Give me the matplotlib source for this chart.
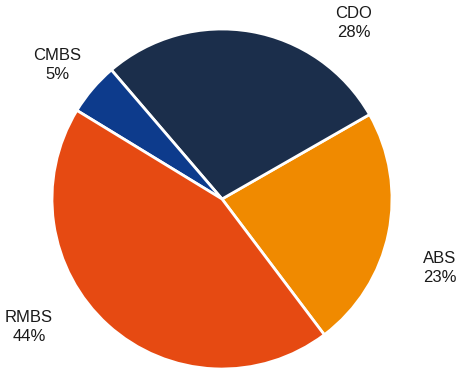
import matplotlib
matplotlib.use("Agg")
import matplotlib.pyplot as plt

categories = ["ABS", "CDO", "CMBS", "RMBS"]
values = [23, 28, 5, 44]
colors = ["#F08A00", "#1B2E4B", "#0D3B8C", "#E64A12"]

plt.rcParams['font.family'] = ['Liberation Sans', 'DejaVu Sans']

fig = plt.figure(figsize=(4.6, 3.72), dpi=100)
cx, cy, r = 222, 199, 170
W, H = 460, 372
ax = fig.add_axes([(cx - r) / W, (H - cy - r) / H, 2 * r / W, 2 * r / H])
ax.pie(values, colors=colors, startangle=-53, counterclock=True,
       wedgeprops=dict(edgecolor="white", linewidth=2))
ax.set_xlim(-1, 1)
ax.set_ylim(-1, 1)
ax.set_aspect("equal")
ax.axis("off")

label_px = {"ABS": (440, 268), "CDO": (354, 23), "CMBS": (57.5, 65), "RMBS": (29, 327)}
for cat, v in zip(categories, values):
    px, py = label_px[cat]
    ax.text((px - cx) / r, (cy - py) / r, f"{cat}\n{v}%", ha="center", va="center",
            fontsize=12, linespacing=1.3, clip_on=False, color="#1a1a1a")

fig.savefig("out.png", dpi=100)
